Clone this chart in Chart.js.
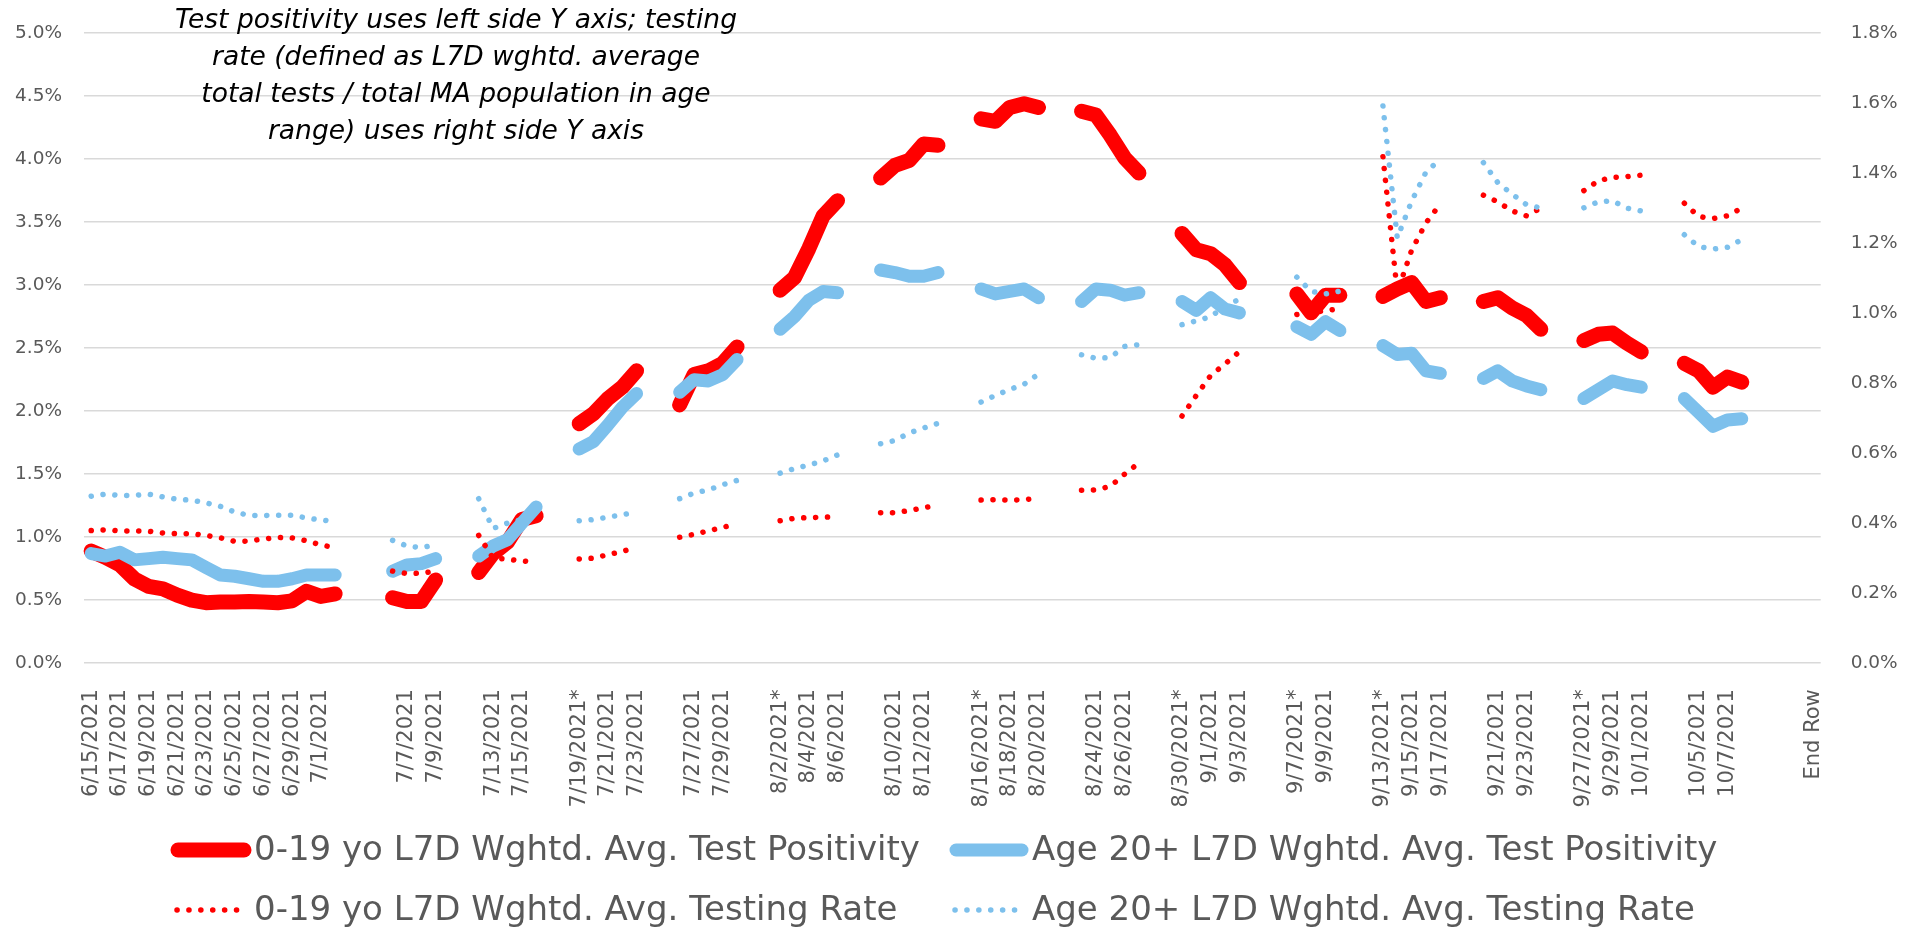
<!DOCTYPE html>
<html>
<head>
<meta charset="utf-8">
<script src="https://cdn.jsdelivr.net/npm/chart.js@4"></script>
<style>
  html, body { margin: 0; padding: 0; background: #fff; }
  canvas { display: block; }
</style>
</head>
<body>
<canvas id="mychart" width="1917" height="933"></canvas>
<script>
// one category per day; blank rows are days without data (Excel shows every 2nd label)
const dateLabels = [
  '6/15/2021','6/16/2021','6/17/2021','6/18/2021','6/19/2021','6/20/2021','6/21/2021','6/22/2021','6/23/2021',
  '6/24/2021','6/25/2021','6/26/2021','6/27/2021','6/28/2021','6/29/2021','6/30/2021','7/1/2021','7/2/2021',
  '', '', '',
  '7/6/2021','7/7/2021','7/8/2021','7/9/2021', '', '',
  '7/12/2021','7/13/2021','7/14/2021','7/15/2021','7/16/2021', '', '',
  '7/19/2021*','7/20/2021','7/21/2021','7/22/2021','7/23/2021', '', '',
  '7/26/2021','7/27/2021','7/28/2021','7/29/2021','7/30/2021', '', '',
  '8/2/2021*','8/3/2021','8/4/2021','8/5/2021','8/6/2021', '', '',
  '8/9/2021','8/10/2021','8/11/2021','8/12/2021','8/13/2021', '', '',
  '8/16/2021*','8/17/2021','8/18/2021','8/19/2021','8/20/2021', '', '',
  '8/23/2021','8/24/2021','8/25/2021','8/26/2021','8/27/2021', '', '',
  '8/30/2021*','8/31/2021','9/1/2021','9/2/2021','9/3/2021', '', '', '',
  '9/7/2021*','9/8/2021','9/9/2021','9/10/2021', '', '',
  '9/13/2021*','9/14/2021','9/15/2021','9/16/2021','9/17/2021', '', '',
  '9/20/2021','9/21/2021','9/22/2021','9/23/2021','9/24/2021', '', '',
  '9/27/2021*','9/28/2021','9/29/2021','9/30/2021','10/1/2021', '', '',
  '10/4/2021','10/5/2021','10/6/2021','10/7/2021','10/8/2021', '', '', '', '',
  'End Row'
];

// test positivity, % (left axis)
const posAge0to19 = [
  0.89, 0.84, 0.78, 0.67, 0.61, 0.59, 0.54, 0.50, 0.48, 0.485, 0.485, 0.49, 0.485, 0.48, 0.495, 0.57, 0.53, 0.55,
  null, null, null,
  0.52, 0.49, 0.49, 0.66, null, null,
  0.72, 0.87, 0.96, 1.14, 1.17, null, null,
  1.90, 1.98, 2.10, 2.19, 2.32, null, null,
  2.05, 2.29, 2.32, 2.38, 2.51, null, null,
  2.96, 3.06, 3.29, 3.55, 3.67, null, null,
  3.85, 3.95, 3.99, 4.12, 4.11, null, null,
  4.32, 4.30, 4.41, 4.44, 4.41, null, null,
  4.38, 4.35, 4.19, 4.01, 3.89, null, null,
  3.41, 3.28, 3.25, 3.16, 3.02, null, null, null,
  2.93, 2.78, 2.92, 2.92, null, null,
  2.91, 2.97, 3.02, 2.87, 2.90, null, null,
  2.87, 2.90, 2.82, 2.76, 2.65, null, null,
  2.56, 2.61, 2.62, 2.54, 2.47, null, null,
  2.38, 2.32, 2.19, 2.27, 2.23, null, null, null, null,
  null
];

const posAge20plus = [
  0.87, 0.85, 0.88, 0.82, 0.83, 0.84, 0.83, 0.82, 0.76, 0.70, 0.69, 0.67, 0.65, 0.65, 0.67, 0.70, 0.70, 0.70,
  null, null, null,
  0.73, 0.78, 0.79, 0.83, null, null,
  0.85, 0.93, 0.98, 1.11, 1.24, null, null,
  1.70, 1.76, 1.89, 2.03, 2.14, null, null,
  2.15, 2.25, 2.24, 2.29, 2.41, null, null,
  2.65, 2.75, 2.88, 2.95, 2.94, null, null,
  3.12, 3.10, 3.07, 3.07, 3.10, null, null,
  2.97, 2.93, 2.95, 2.97, 2.90, null, null,
  2.87, 2.97, 2.96, 2.92, 2.94, null, null,
  2.87, 2.80, 2.90, 2.81, 2.78, null, null, null,
  2.67, 2.61, 2.71, 2.64, null, null,
  2.52, 2.45, 2.46, 2.32, 2.30, null, null,
  2.26, 2.32, 2.24, 2.20, 2.17, null, null,
  2.10, 2.17, 2.24, 2.21, 2.19, null, null,
  2.10, 1.99, 1.88, 1.93, 1.94, null, null, null, null,
  null
];

// testing rate, % (right axis)
const rateAge0to19 = [
  0.379, 0.381, 0.378, 0.378, 0.377, 0.372, 0.370, 0.370, 0.365, 0.358, 0.348, 0.349, 0.355, 0.359, 0.358, 0.350, 0.338, 0.330,
  null, null, null,
  0.263, 0.256, 0.257, 0.263, null, null,
  0.365, 0.300, 0.297, 0.292, 0.288, null, null,
  0.298, 0.300, 0.310, 0.319, 0.332, null, null,
  0.360, 0.368, 0.378, 0.388, 0.398, null, null,
  0.407, 0.414, 0.416, 0.417, 0.419, null, null,
  0.430, 0.430, 0.436, 0.444, 0.452, null, null,
  0.466, 0.467, 0.466, 0.467, 0.472, null, null,
  0.494, 0.495, 0.505, 0.540, 0.572, null, null,
  0.706, 0.765, 0.822, 0.855, 0.890, null, null, null,
  0.996, 1.000, 1.008, 1.012, null, null,
  1.447, 1.060, 1.180, 1.258, 1.312, null, null,
  1.337, 1.318, 1.292, 1.278, 1.300, null, null,
  1.350, 1.378, 1.388, 1.390, 1.394, null, null,
  1.314, 1.276, 1.270, 1.278, 1.300, null, null, null, null,
  null
];

const rateAge20plus = [
  0.477, 0.483, 0.479, 0.479, 0.483, 0.475, 0.468, 0.466, 0.458, 0.448, 0.432, 0.422, 0.422, 0.423, 0.423, 0.415, 0.409, 0.405,
  null, null, null,
  0.351, 0.335, 0.330, 0.338, null, null,
  0.470, 0.385, 0.400, 0.410, 0.430, null, null,
  0.407, 0.410, 0.417, 0.424, 0.432, null, null,
  0.470, 0.486, 0.495, 0.510, 0.522, null, null,
  0.543, 0.556, 0.566, 0.578, 0.595, null, null,
  0.627, 0.636, 0.658, 0.672, 0.685, null, null,
  0.746, 0.765, 0.782, 0.797, 0.826, null, null,
  0.881, 0.871, 0.873, 0.905, 0.910, null, null,
  0.967, 0.978, 0.990, 1.020, 1.040, null, null, null,
  1.103, 1.062, 1.055, 1.063, null, null,
  1.592, 1.215, 1.320, 1.403, 1.440, null, null,
  1.430, 1.373, 1.340, 1.310, 1.300, null, null,
  1.301, 1.318, 1.321, 1.300, 1.292, null, null,
  1.224, 1.190, 1.183, 1.188, 1.210, null, null, null, null,
  null
];

const seriesNames = [
  '0-19 yo L7D Wghtd. Avg. Test Positivity',
  'Age 20+ L7D Wghtd. Avg. Test Positivity',
  '0-19 yo L7D Wghtd. Avg. Testing Rate',
  'Age 20+ L7D Wghtd. Avg. Testing Rate'
];

const noteLines = [
  'Test positivity uses left side Y axis; testing',
  'rate (defined as L7D wghtd. average',
  'total tests / total MA population in age',
  'range) uses right side Y axis'
];

const FONT = "'DejaVu Sans', sans-serif";
const GREY = '#595959';
const RED = '#FF0000';
const BLUE = '#7DC0EC';
const DOTS = [0.1, 11.8];

const ctx = document.getElementById('mychart');

// italic note in the top left corner
const pluginNote = {
  id: 'note',
  afterDraw: (chart) => {
    const c = chart.ctx;
    c.save();
    c.font = 'italic 26.5px ' + FONT;
    c.fillStyle = '#000';
    c.textAlign = 'center';
    c.textBaseline = 'middle';
    noteLines.forEach((t, k) => c.fillText(t, 456, 21 + k * 37));
    c.restore();
  }
};

// two-column legend like the Excel one
const pluginGridLegend = {
  id: 'gridLegend',
  afterDraw: (chart) => {
    const c = chart.ctx;
    chart.data.datasets.forEach((ds, i) => {
      const x0 = [172, 950][i % 2];
      const y = [850, 910][Math.floor(i / 2)];
      c.save();
      c.strokeStyle = ds.borderColor;
      c.lineWidth = ds.borderWidth;
      c.lineCap = 'round';
      c.setLineDash(ds.borderDash || []);
      c.beginPath();
      if (ds.borderDash) {
        c.moveTo(x0 + 5, y);
        c.lineTo(x0 + 68, y);
      } else {
        c.moveTo(x0 + 6, y);
        c.lineTo(x0 + 72, y);
      }
      c.stroke();
      c.setLineDash([]);
      c.fillStyle = GREY;
      c.font = '34px ' + FONT;
      c.textBaseline = 'middle';
      c.fillText(ds.label, x0 + 82, y + 1);
      c.restore();
    });
  }
};

const chart = new Chart(ctx, {
  type: 'line',
  data: {
    labels: dateLabels,
    datasets: [{
      label: seriesNames[0],
      data: posAge0to19,
      yAxisID: 'yL',
      borderColor: RED,
      borderWidth: 15,
      borderCapStyle: 'round',
      borderJoinStyle: 'round',
      order: 4
    }, {
      label: seriesNames[1],
      data: posAge20plus,
      yAxisID: 'yL',
      borderColor: BLUE,
      borderWidth: 13,
      borderCapStyle: 'round',
      borderJoinStyle: 'round',
      order: 3
    }, {
      label: seriesNames[2],
      data: rateAge0to19,
      yAxisID: 'yR',
      borderColor: RED,
      borderWidth: 5.5,
      borderDash: DOTS,
      borderCapStyle: 'round',
      order: 2
    }, {
      label: seriesNames[3],
      data: rateAge20plus,
      yAxisID: 'yR',
      borderColor: BLUE,
      borderWidth: 5.5,
      borderDash: DOTS,
      borderCapStyle: 'round',
      order: 1
    }]
  },
  options: {
    responsive: false,
    animation: false,
    spanGaps: false,
    elements: {
      point: { radius: 0, hoverRadius: 0 },
      line: { tension: 0 }
    },
    layout: { padding: { top: 21.6 } },
    plugins: {
      legend: { display: false },
      tooltip: { enabled: false }
    },
    scales: {
      x: {
        offset: true,
        grid: { display: false },
        border: { display: false },
        ticks: {
          autoSkip: false,
          minRotation: 90,
          maxRotation: 90,
          padding: 18,
          color: GREY,
          font: { family: FONT, size: 21 },
          callback: function (value, index) {
            return index % 2 === 0 ? this.getLabelForValue(value) : '';
          }
        },
        afterFit: (scale) => { scale.height = 269.8; }
      },
      yL: {
        position: 'left',
        min: 0,
        max: 5,
        grid: { color: '#D9D9D9', lineWidth: 1.5, drawTicks: false },
        border: { display: false },
        ticks: {
          stepSize: 0.5,
          padding: 22,
          color: GREY,
          font: { family: FONT, size: 18.5 },
          callback: (v) => v.toFixed(1) + '%'
        },
        afterFit: (scale) => { scale.width = 84; }
      },
      yR: {
        position: 'right',
        min: 0,
        max: 1.8,
        grid: { display: false },
        border: { display: false },
        ticks: {
          stepSize: 0.2,
          padding: 22,
          color: GREY,
          font: { family: FONT, size: 18.5 },
          callback: (v) => v.toFixed(1) + '%'
        },
        afterFit: (scale) => { scale.width = 96.3; }
      }
    }
  },
  plugins: [pluginNote, pluginGridLegend]
});
</script>
</body>
</html>
